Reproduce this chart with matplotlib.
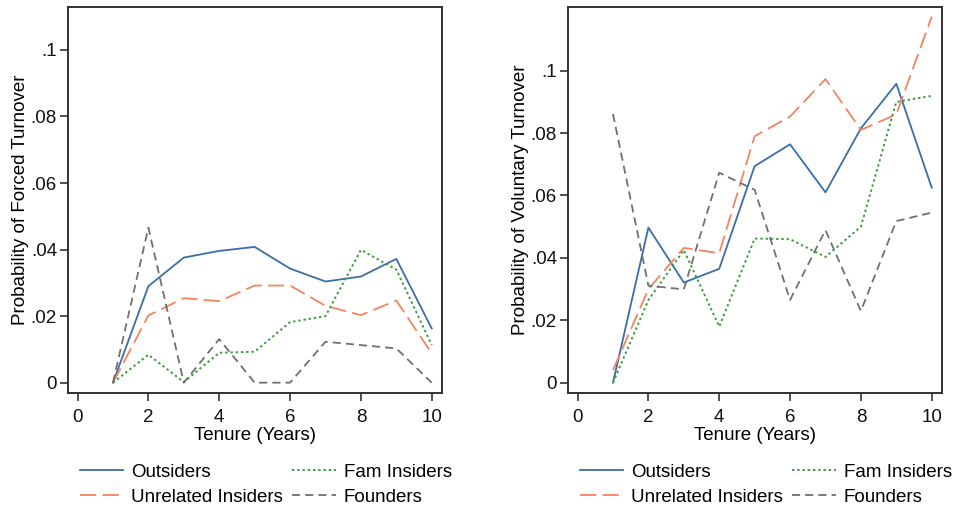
import numpy as np
import matplotlib.pyplot as plt

plt.rcParams['font.family'] = ['Liberation Sans', 'DejaVu Sans']

tenure = [1, 2, 3, 4, 5, 6, 7, 8, 9, 10]
labels = ["Outsiders", "Unrelated Insiders", "Fam Insiders", "Founders"]

# forced turnover
forced_out = [0, 0.029, 0.0376, 0.0396, 0.0408, 0.0343, 0.0304, 0.0319, 0.0372, 0.0163]
forced_unrel = [0, 0.0202, 0.0254, 0.0245, 0.0292, 0.0292, 0.0231, 0.0203, 0.0247, 0.0088]
forced_fam = [0, 0.0084, 0.0002, 0.009, 0.0093, 0.0182, 0.020, 0.0399, 0.034, 0.0113]
forced_found = [0, 0.0466, 0, 0.0131, 0, 0, 0.0123, 0.0113, 0.0103, 0]

# voluntary turnover
vol_out = [0, 0.0497, 0.0321, 0.0365, 0.0694, 0.0764, 0.061, 0.0815, 0.0958, 0.0625]
vol_unrel = [0.004, 0.030, 0.0432, 0.0415, 0.079, 0.0853, 0.0973, 0.081, 0.086, 0.1173]
vol_fam = [0, 0.0265, 0.0425, 0.018, 0.0462, 0.046, 0.0403, 0.050, 0.090, 0.0919]
vol_found = [0.0861, 0.0311, 0.0299, 0.0673, 0.0618, 0.0265, 0.0489, 0.023, 0.0518, 0.0545]

styles = [
    dict(color='#3a6ea5', linestyle='-', lw=1.3),
    dict(color='#f4845f', linestyle=(0, (9, 3.5)), lw=1.3),
    dict(color='#3a9a3a', linestyle=(0, (1.2, 1.5)), lw=1.4),
    dict(color='#707070', linestyle=(0, (4.5, 2.8)), lw=1.3),
]

fig = plt.figure(figsize=(9.59, 5.08), dpi=100)
ax1 = fig.add_axes([68/959, 115/508, 374/959, 386/508])
ax2 = fig.add_axes([568/959, 115/508, 374/959, 386/508])

def fmt(v):
    if v == 0:
        return "0"
    s = ("%.2f" % v).rstrip('0')
    return s[1:] if s.startswith("0") else s

yt = [0, 0.02, 0.04, 0.06, 0.08, 0.1]
fs = 13.5

for ax, series, ylab, ylim in [
        (ax1, [forced_out, forced_unrel, forced_fam, forced_found], "Probability of Forced Turnover", (-0.0031, 0.1129)),
        (ax2, [vol_out, vol_unrel, vol_fam, vol_found], "Probability of Voluntary Turnover", (-0.0033, 0.1204))]:
    for ys, st, lab in zip(series, styles, labels):
        ax.plot(tenure, ys, label=lab, **st)
    ax.set_xlim(-0.27, 10.29)
    ax.set_ylim(*ylim)
    ax.set_xticks(range(0, 11, 2))
    ax.set_yticks(yt)
    ax.set_yticklabels([fmt(v) for v in yt])
    ax.tick_params(labelsize=fs, color='#333333', length=5.5, width=1.2,
                   labelcolor='#111111')
    ax.tick_params(axis='x', pad=6)
    ax.tick_params(axis='y', pad=2.5)
    for sp_ in ax.spines.values():
        sp_.set_color('#333333')
        sp_.set_linewidth(1.4)
    ax.set_xlabel("Tenure (Years)", fontsize=fs, labelpad=1)
    ax.set_ylabel(ylab, fontsize=fs, labelpad=1)
    ax.legend(loc='upper left', bbox_to_anchor=(0.032, -0.183), ncol=2, frameon=False,
              fontsize=fs, handlelength=2.3, handletextpad=0.43, columnspacing=0.5,
              labelspacing=0.42, borderaxespad=0, borderpad=0)

fig.savefig("out.png", dpi=100)
